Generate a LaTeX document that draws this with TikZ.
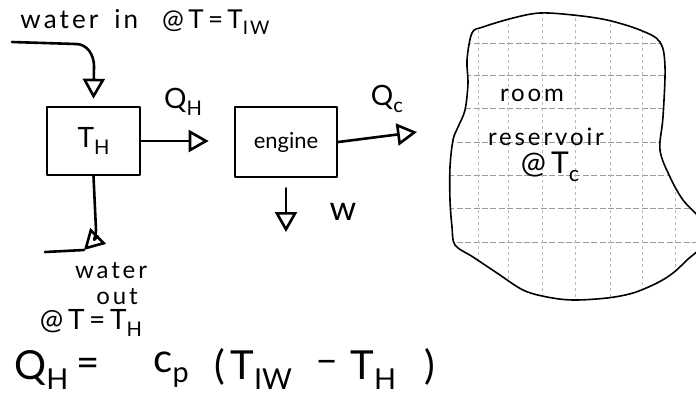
\documentclass[tikz,border=0pt]{standalone}
\usepackage{fontspec}
\usepackage{graphicx}
\setmainfont{Lato}
\newfontfamily\wide[LetterSpace=12]{Lato}
\usetikzlibrary{arrows.meta}
\newcommand{\lowsub}[1]{\raisebox{-0.5ex}{\scalebox{0.72}{#1}}}
\begin{document}
\begin{tikzpicture}[x=0.5pt,y=-0.5pt,
  hand/.style={line width=1.3pt, line cap=round, line join=round},
  box/.style={hand, draw, inner sep=0pt},
  flow/.style={hand, -{Triangle[open, length=10pt, width=11pt]}},
  lbl/.style={font=\wide\fontsize{12}{14}\selectfont, inner sep=0pt},
  big/.style={font=\fontsize{20}{22}\selectfont, inner sep=0pt},
  gridh/.style={gray!80, line width=0.45pt, dash pattern=on 3pt off 1.2pt},
  gridv/.style={gray!55, line width=0.35pt, dash pattern=on 1.5pt off 1.5pt},
  cloud/.style={line width=0.8pt, line join=round}
]
\useasboundingbox (0,0) rectangle (696,397);

% boxes
\node[box, minimum width=46.5pt, minimum height=34pt, font=\fontsize{14}{16}\selectfont] (th) at (93.5,141) {T\lowsub{H}};
\node[box, minimum width=51pt, minimum height=35pt, font=\fontsize{11}{13}\selectfont] (eng) at (286,142) {engine};

% water in
\node[lbl, anchor=west, font=\wide\fontsize{13}{15}\selectfont] (win) at (20,22) {water\hspace{8pt}in\hspace{12pt}@\,T\,=\,T\lowsub{IW}};
\coordinate (inS) at (12,42);
\draw[flow] (inS) -- (76,44) to[out=0,in=90] (94,66) -- ([yshift=3.5pt]th.north);

% Q_H
\draw[flow, shorten >=12.5pt] (th.east) -- (th.east -| eng.west);
\node[lbl, font=\fontsize{14}{16}\selectfont] (qh) at (183,102) {Q\lowsub{H}};

% Q_C
\coordinate (qcE) at (417,132);
\draw[flow] (eng.east) -- (qcE);
\node[lbl, font=\fontsize{14}{16}\selectfont] (qc) at (387,99) {Q\lowsub{c}};

% W
\coordinate (wE) at (286,232);
\draw[flow, shorten <=5pt] (eng.south) -- (wE);
\node[lbl, font=\fontsize{17}{18}\selectfont] (w) at (343,212) {w};

% water out
\coordinate (outC) at (84,250);
\coordinate (outE) at (45,252);
\draw[flow] (th.south) -- (96,230) to[out=-90,in=45] (outC);
\draw[hand] (outC) -- (outE);
\node[lbl, align=center] (wout) at (111,284) {water\\[-1pt]\hspace{6pt}out};
\node[lbl, font=\fontsize{14}{16}\selectfont] (wt) at (91,323) {@\,T\,=\,T\lowsub{H}};

% equation
\node[big, anchor=west] (eqq) at (14,370) {Q\lowsub{H}};
\node[big] (eqe) at (88,367) {=};
\node[big, anchor=west] (eqc) at (153,370) {c\lowsub{p}};
\node[big] (eqo) at (220,367) {(};
\node[big, anchor=west] (eqt) at (230,370) {T\lowsub{IW}};
\node[big] (eqm) at (327,367) {\textendash};
\node[big, anchor=west] (eqh) at (350,370) {T\lowsub{H}};
\node[big] (eqcl) at (430,367) {)};

% cloud reservoir
\def\cloudpath{plot[smooth cycle, tension=0.55] coordinates {(472,33) (483,27) (513,18) (540,13) (573,15) (607,20) (640,30) (660,42) (665,67) (663,117) (660,150) (670,177) (683,200) (702,222) (702,245) (687,260) (673,273) (657,283) (633,293) (607,298) (573,300) (547,297) (523,290) (497,273) (473,257) (455,245) (452,227) (450,200) (450,167) (453,140) (458,127) (465,110) (468,83) (467,60)}}
\begin{scope}
  \clip \cloudpath;
  \foreach \yy in {43,75,108,142,175,208,242}
    \draw[gridh] (440,\yy) -- (710,\yy);
  \foreach \xx in {478,508,542,575,610,642,675}
    \draw[gridv] (\xx,0) -- (\xx,310);
\end{scope}
\draw[cloud] \cloudpath;
\node[lbl] (room) at (532,95) {room};
\node[lbl] (res) at (546,137) {reservoir};
\node[lbl, font=\wide\fontsize{15}{17}\selectfont] (tc) at (550,167) {@\,T\lowsub{c}};
\end{tikzpicture}
\end{document}
